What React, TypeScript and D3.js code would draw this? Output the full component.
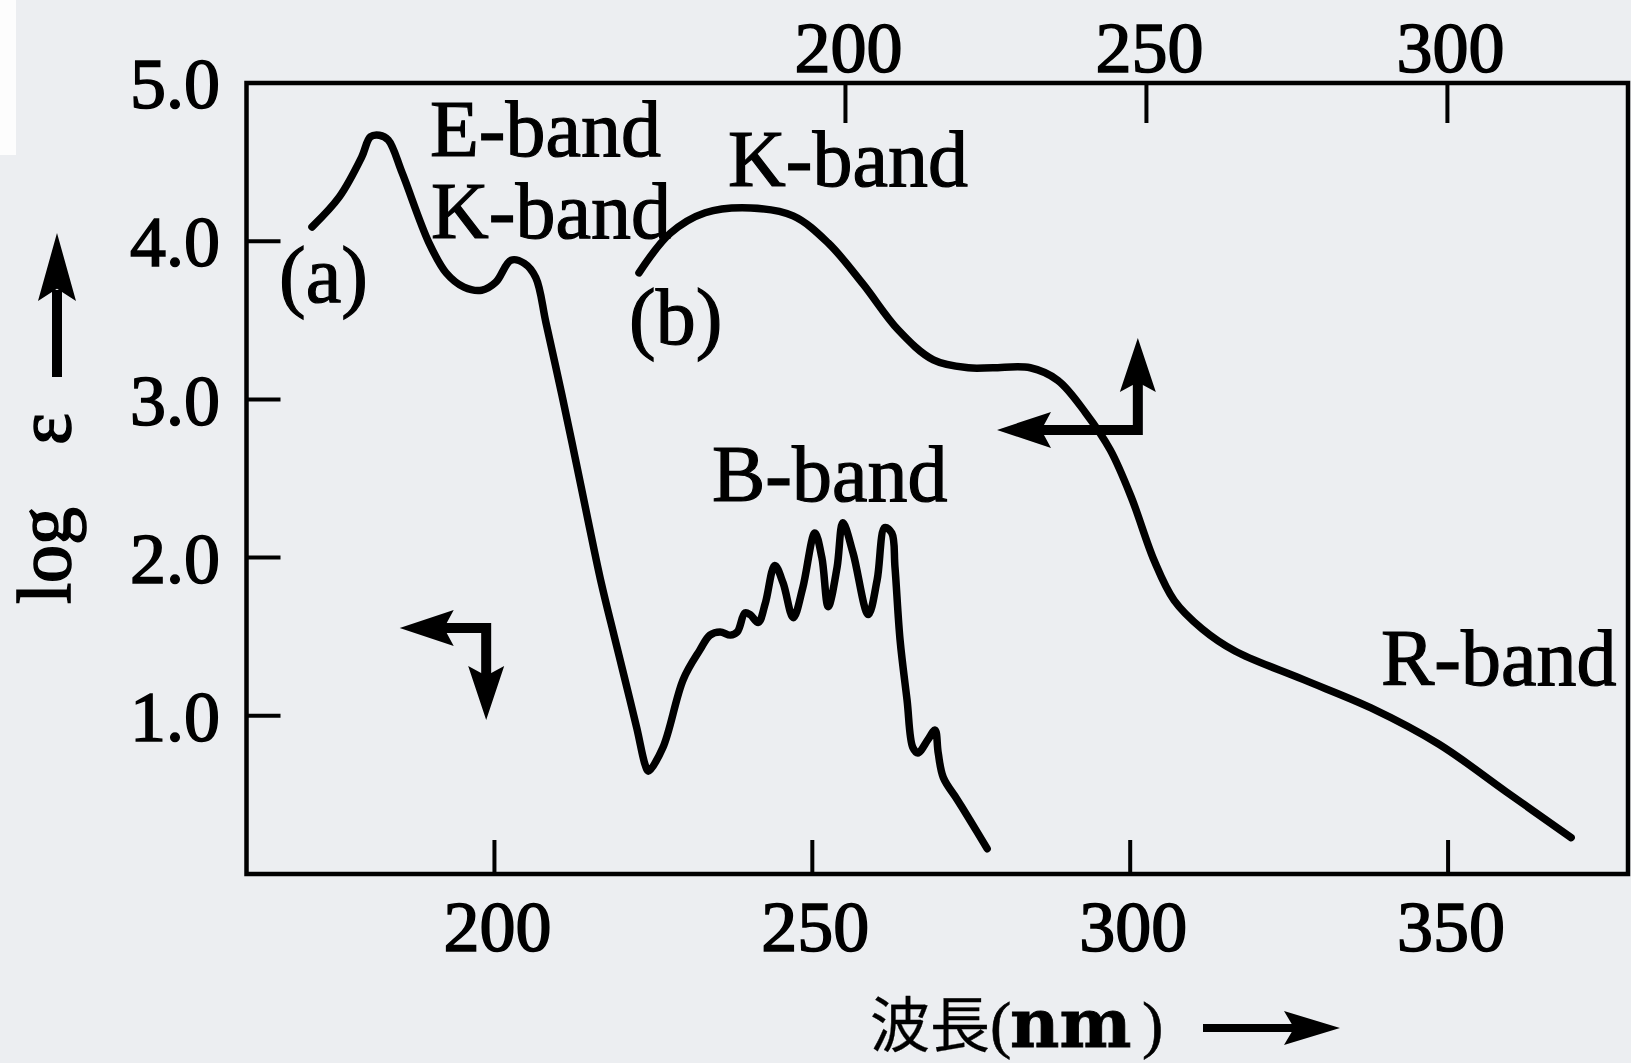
import React from 'react';
import * as d3 from 'd3';

const WIDTH = 1631;
const HEIGHT = 1063;

// curve (a): read against the bottom wavelength axis
const waveA = [171.3, 175.6, 179.1, 180.5, 181.9, 183.3, 185.5, 189.7, 192.4, 195.2, 198.0, 200.2, 202.6, 204.7, 206.5, 208.1, 210.6, 212.7, 214.7, 216.8, 218.8, 220.4, 222.4, 223.7, 224.2, 226.5, 229.7, 232.3, 233.9, 235.5, 237.1, 238.2, 239.4, 240.2, 241.5, 242.6, 244.1, 245.4, 247.0, 248.5, 250.4, 251.5, 252.5, 253.9, 254.8, 256.4, 258.8, 260.2, 261.4, 262.5, 263.0, 263.8, 264.9, 265.8, 266.6, 268.2, 269.3, 269.8, 270.6, 272.8, 274.8, 277.5];
const logEpsA = [4.09, 4.28, 4.53, 4.66, 4.67, 4.64, 4.43, 3.99, 3.80, 3.71, 3.69, 3.74, 3.88, 3.86, 3.77, 3.485, 3.03, 2.63, 2.24, 1.84, 1.51, 1.25, 0.92, 0.69, 0.65, 0.80, 1.23, 1.415, 1.51, 1.53, 1.51, 1.53, 1.65, 1.64, 1.59, 1.71, 1.95, 1.84, 1.62, 1.81, 2.155, 2.00, 1.69, 1.94, 2.22, 2.03, 1.64, 1.86, 2.19, 2.155, 1.94, 1.48, 1.10, 0.80, 0.765, 0.85, 0.91, 0.765, 0.61, 0.47, 0.34, 0.16];

// curve (b): read against the top wavelength axis
const waveB = [165.7, 170.9, 176.7, 184.3, 191.3, 197.1, 202.9, 208.75, 214.6, 220.4, 224.5, 230.7, 235.3, 240.0, 244.0, 247.5, 251.3, 254.6, 259.25, 264.7, 276.0, 287.3, 298.6, 309.75, 320.55];
const logEpsB = [3.80, 4.05, 4.18, 4.21, 4.16, 3.99, 3.73, 3.44, 3.25, 3.20, 3.20, 3.20, 3.12, 2.91, 2.68, 2.38, 1.98, 1.73, 1.55, 1.41, 1.23, 1.05, 0.82, 0.52, 0.23];

const bottomTicks = [200, 250, 300, 350];
const topTicks = [200, 250, 300];
const yTicks = [1, 2, 3, 4, 5];

// axis-direction arrows, in (bottom wavelength, log e) units: corner, horizontal tip, vertical tip
const arrowA = { corner: [198.7, 1.555], tipX: 185.1, tipY: 0.973 };
const arrowB = { corner: [301.2, 2.807], tipX: 279.05, tipY: 3.388 };

const frame = { left: 246.5, right: 1628, top: 83, bottom: 874 };
const serif = "'Liberation Serif', 'Times New Roman', serif";

function head(tx, ty, dx, dy, len, hw) {
  const bx = tx - dx * len, by = ty - dy * len;
  const nx = tx - dx * len * 0.82, ny = ty - dy * len * 0.82;
  const px = -dy, py = dx;
  return `M${tx},${ty}L${bx + px * hw},${by + py * hw}L${nx},${ny}L${bx - px * hw},${by - py * hw}Z`;
}

function ElbowArrow({ a, x, y }) {
  const cx = x(a.corner[0]);
  const cy = y(a.corner[1]);
  const hx = x(a.tipX);
  const vy = y(a.tipY);
  const dirY = vy > cy ? 1 : -1;
  const len = 54;
  return (
    <g>
      <path
        d={`M${hx + len * 0.8},${cy}L${cx},${cy}L${cx},${vy - dirY * len * 0.8}`}
        fill="none" stroke="#000" strokeWidth={10} strokeLinejoin="miter"
      />
      <path d={head(hx, cy, -1, 0, len, 18)} fill="#000" />
      <path d={head(cx, vy, 0, dirY, len, 18)} fill="#000" />
    </g>
  );
}

export default function App() {
  const xBottom = d3.scaleLinear().domain([161.0, 378.3]).range([frame.left, frame.right]);
  const xTop = d3.scaleLinear().domain([100.5, 330.0]).range([frame.left, frame.right]);
  const y = d3.scaleLinear().domain([0, 5]).range([frame.bottom, frame.top]);

  const lineFor = (xs) =>
    d3.line().x((d) => xs(d[0])).y((d) => y(d[1])).curve(d3.curveCatmullRom.alpha(0.5));
  const pathA = lineFor(xBottom)(d3.zip(waveA, logEpsA));
  const pathB = lineFor(xTop)(d3.zip(waveB, logEpsB));

  const tickLen = 34;
  const label = { fontFamily: serif, fontSize: 72, fill: '#000', stroke: '#000', strokeWidth: 1.6 };
  const band = { fontFamily: serif, fontSize: 80, fill: '#000', stroke: '#000', strokeWidth: 1.2 };

  return (
    <svg
      width={WIDTH}
      height={HEIGHT}
      style={{ position: 'absolute', left: 0, top: 0, display: 'block' }}
    >
      <rect width={WIDTH} height={HEIGHT} fill="#eceef1" />
      <rect width={16} height={155} fill="#fdfdfd" />

      {/* frame */}
      <rect
        x={frame.left} y={frame.top}
        width={frame.right - frame.left} height={frame.bottom - frame.top}
        fill="none" stroke="#000" strokeWidth={4.5}
      />

      {/* left ticks */}
      {yTicks.map((t) => (
        <g key={'y' + t}>
          {t < 5 && (
            <line x1={frame.left} x2={frame.left + tickLen} y1={y(t)} y2={y(t)} stroke="#000" strokeWidth={4} />
          )}
          <text x={220} y={y(t)} dy="0.35em" textAnchor="end" style={label}>{t.toFixed(1)}</text>
        </g>
      ))}

      {/* bottom ticks */}
      {bottomTicks.map((t) => (
        <g key={'b' + t}>
          <line x1={xBottom(t)} x2={xBottom(t)} y1={frame.bottom} y2={frame.bottom - tickLen} stroke="#000" strokeWidth={4} />
          <text x={xBottom(t) + 3} y={951} textAnchor="middle" style={label}>{t}</text>
        </g>
      ))}

      {/* top ticks */}
      {topTicks.map((t) => (
        <g key={'t' + t}>
          <line x1={xTop(t)} x2={xTop(t)} y1={frame.top} y2={frame.top + 40} stroke="#000" strokeWidth={4} />
          <text x={xTop(t) + 3} y={72} textAnchor="middle" style={label}>{t}</text>
        </g>
      ))}

      {/* spectra */}
      <path d={pathA} fill="none" stroke="#000" strokeWidth={7.5} strokeLinejoin="round" strokeLinecap="round" />
      <path d={pathB} fill="none" stroke="#000" strokeWidth={7.5} strokeLinejoin="round" strokeLinecap="round" />

      <ElbowArrow a={arrowA} x={xBottom} y={y} />
      <ElbowArrow a={arrowB} x={xBottom} y={y} />

      {/* band labels */}
      <text x={430} y={156} style={band}>E-band</text>
      <text x={431} y={238} style={band}>K-band</text>
      <text x={728} y={186} style={band}>K-band</text>
      <text x={712} y={501} style={band}>B-band</text>
      <text x={1381} y={685} style={band}>R-band</text>
      <text x={279} y={302} style={band}>(a)</text>
      <text x={629} y={344} style={band}>(b)</text>

      {/* y axis title with arrow */}
      <text transform="translate(70,604) rotate(-90)" style={{ ...label, fontSize: 76 }}>
        log<tspan dx={62}>ε</tspan>
      </text>
      <line x1={57} x2={57} y1={377} y2={290} stroke="#000" strokeWidth={10} />
      <path d={head(57, 233, 0, -1, 68, 19)} fill="#000" />

      {/* x axis title with arrow */}
      <text x={870} y={1047} style={{ ...label, fontFamily: "'Noto Sans CJK JP', sans-serif", fontSize: 60, strokeWidth: 0.3 }}>波長</text>
      <text x={990} y={1046} style={{ ...label, fontSize: 64, strokeWidth: 0.6 }}>(</text>
      <text x={1010} y={1047} style={{ ...label, fontFamily: "'DejaVu Serif', serif", fontWeight: 'bold', fontSize: 68, strokeWidth: 0.8 }}>nm</text>
      <text x={1142} y={1046} style={{ ...label, fontSize: 64, strokeWidth: 0.6 }}>)</text>
      <line x1={1203} x2={1295} y1={1028} y2={1028} stroke="#000" strokeWidth={8} />
      <path d={head(1340, 1028, 1, 0, 56, 17)} fill="#000" />
    </svg>
  );
}
